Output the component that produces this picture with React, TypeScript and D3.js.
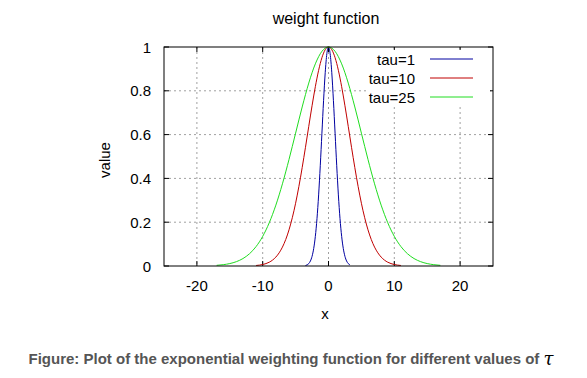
import React from "react";
import * as d3 from "d3";

const xTicks = [-20, -10, 0, 10, 20];
const yTicks = [0, 0.2, 0.4, 0.6, 0.8, 1];
const yTickLabels = ["0", "0.2", "0.4", "0.6", "0.8", "1"];

// tau = 1
const blueX = [-3.5, -3.25, -3, -2.75, -2.5, -2.25, -2, -1.75, -1.5, -1.25, -1, -0.75, -0.5, -0.25, 0, 0.25, 0.5, 0.75, 1, 1.25, 1.5, 1.75, 2, 2.25, 2.5, 2.75, 3, 3.25];
const blueY = [0.0022, 0.0051, 0.0111, 0.0228, 0.0439, 0.0796, 0.1353, 0.2163, 0.3247, 0.4578, 0.6065, 0.7548, 0.8825, 0.9692, 1, 0.9692, 0.8825, 0.7548, 0.6065, 0.4578, 0.3247, 0.2163, 0.1353, 0.0796, 0.0439, 0.0228, 0.0111, 0.0051];

// tau = 10
const redX = [-11, -10.5, -10, -9.5, -9, -8.5, -8, -7.5, -7, -6.5, -6, -5.5, -5, -4.5, -4, -3.5, -3, -2.5, -2, -1.5, -1, -0.5, 0, 0.5, 1, 1.5, 2, 2.5, 3, 3.5, 4, 4.5, 5, 5.5, 6, 6.5, 7, 7.5, 8, 8.5, 9, 9.5, 10, 10.5, 11];
const redY = [0.0024, 0.004, 0.0067, 0.011, 0.0174, 0.027, 0.0408, 0.0601, 0.0863, 0.1209, 0.1653, 0.2204, 0.2865, 0.3633, 0.4493, 0.542, 0.6376, 0.7316, 0.8187, 0.8936, 0.9512, 0.9876, 1, 0.9876, 0.9512, 0.8936, 0.8187, 0.7316, 0.6376, 0.542, 0.4493, 0.3633, 0.2865, 0.2204, 0.1653, 0.1209, 0.0863, 0.0601, 0.0408, 0.027, 0.0174, 0.011, 0.0067, 0.004, 0.0024];

// tau = 25
const greenX = [-17, -16, -15, -14, -13, -12, -11, -10, -9, -8, -7, -6, -5, -4, -3, -2, -1, 0, 1, 2, 3, 4, 5, 6, 7, 8, 9, 10, 11, 12, 13, 14, 15, 16, 17];
const greenY = [0.0031, 0.006, 0.0111, 0.0198, 0.034, 0.0561, 0.0889, 0.1353, 0.1979, 0.278, 0.3753, 0.4868, 0.6065, 0.7261, 0.8353, 0.9231, 0.9802, 1, 0.9802, 0.9231, 0.8353, 0.7261, 0.6065, 0.4868, 0.3753, 0.278, 0.1979, 0.1353, 0.0889, 0.0561, 0.034, 0.0198, 0.0111, 0.006, 0.0031];

const seriesNames = ["tau=1", "tau=10", "tau=25"];
const seriesColors = ["#0000a0", "#c00000", "#20dd20"];

const W = 587;
const H = 378;
const L = 164, R = 493, T = 47, B = 266;
const FONT = "'Liberation Sans', Arial, sans-serif";

export default function App() {
  const x = d3.scaleLinear().domain([-25, 25]).range([L, R]);
  const y = d3.scaleLinear().domain([0, 1]).range([B, T]);
  const line = d3
    .line<[number, number]>()
    .x((d) => x(d[0]))
    .y((d) => y(d[1]))
    .curve(d3.curveMonotoneX);
  const series = [
    blueX.map((v, i) => [v, blueY[i]] as [number, number]),
    redX.map((v, i) => [v, redY[i]] as [number, number]),
    greenX.map((v, i) => [v, greenY[i]] as [number, number]),
  ];
  const gridColor = "#a0a0a0";
  return (
    <svg
      width={W}
      height={H}
      style={{ position: "absolute", left: 0, top: 0, background: "#fff" }}
      fontFamily={FONT}
    >
      <rect x={0} y={0} width={W} height={H} fill="#fff" />
      {/* grid */}
      {xTicks.map((t) => (
        <line key={"gx" + t} x1={x(t)} x2={x(t)} y1={T} y2={B} stroke={gridColor} strokeDasharray="2,3" strokeWidth={1} />
      ))}
      {yTicks.slice(1, -1).map((t) => (
        <line key={"gy" + t} x1={L} x2={R} y1={y(t)} y2={y(t)} stroke={gridColor} strokeDasharray="2,3" strokeWidth={1} />
      ))}
      {/* ticks */}
      {xTicks.map((t) => (
        <g key={"tx" + t}>
          <line x1={x(t)} x2={x(t)} y1={B} y2={B - 5} stroke="#000" />
          <line x1={x(t)} x2={x(t)} y1={T} y2={T + 5} stroke="#000" />
          <text x={x(t)} y={285} textAnchor="middle" dominantBaseline="central" fontSize={15} fill="#000">
            {t}
          </text>
        </g>
      ))}
      {yTicks.map((t, i) => (
        <g key={"ty" + t}>
          <line x1={L} x2={L + 5} y1={y(t)} y2={y(t)} stroke="#000" />
          <line x1={R} x2={R - 5} y1={y(t)} y2={y(t)} stroke="#000" />
          <text x={151} y={y(t)} textAnchor="end" dominantBaseline="central" fontSize={15} fill="#000">
            {yTickLabels[i]}
          </text>
        </g>
      ))}
      {/* legend background */}
      <rect x={366} y={50} width={124} height={56} fill="#fff" />
      {/* curves */}
      {series.map((s, i) => (
        <path key={"s" + i} d={line(s) || ""} fill="none" stroke={seriesColors[i]} strokeWidth={1} />
      ))}
      {/* legend */}
      {seriesNames.map((n, i) => (
        <g key={"lg" + i}>
          <text x={415} y={59 + i * 19} textAnchor="end" dominantBaseline="central" fontSize={15} fill="#000">
            {n}
          </text>
          <line x1={430} x2={473} y1={59 + i * 19} y2={59 + i * 19} stroke={seriesColors[i]} strokeWidth={1} />
        </g>
      ))}
      {/* border */}
      <rect x={L} y={T} width={R - L} height={B - T} fill="none" stroke="#000" strokeWidth={1} />
      {/* titles */}
      <text x={326} y={18} textAnchor="middle" dominantBaseline="central" fontSize={16} fill="#000">
        weight function
      </text>
      <text x={325} y={313} textAnchor="middle" dominantBaseline="central" fontSize={15} fill="#000">
        x
      </text>
      <text
        transform={`translate(104,160) rotate(-90)`}
        textAnchor="middle"
        dominantBaseline="central"
        fontSize={15}
        fill="#000"
      >
        value
      </text>
      <text x={291} y={358} textAnchor="middle" dominantBaseline="central" fontSize={15} fontWeight="bold" fill="#555">
        Figure: Plot of the exponential weighting function for different values of{" "}
        <tspan fontFamily="'DejaVu Serif', serif" fontStyle="italic" fontWeight="normal" fontSize={18} fill="#000">
          τ
        </tspan>
      </text>
    </svg>
  );
}
